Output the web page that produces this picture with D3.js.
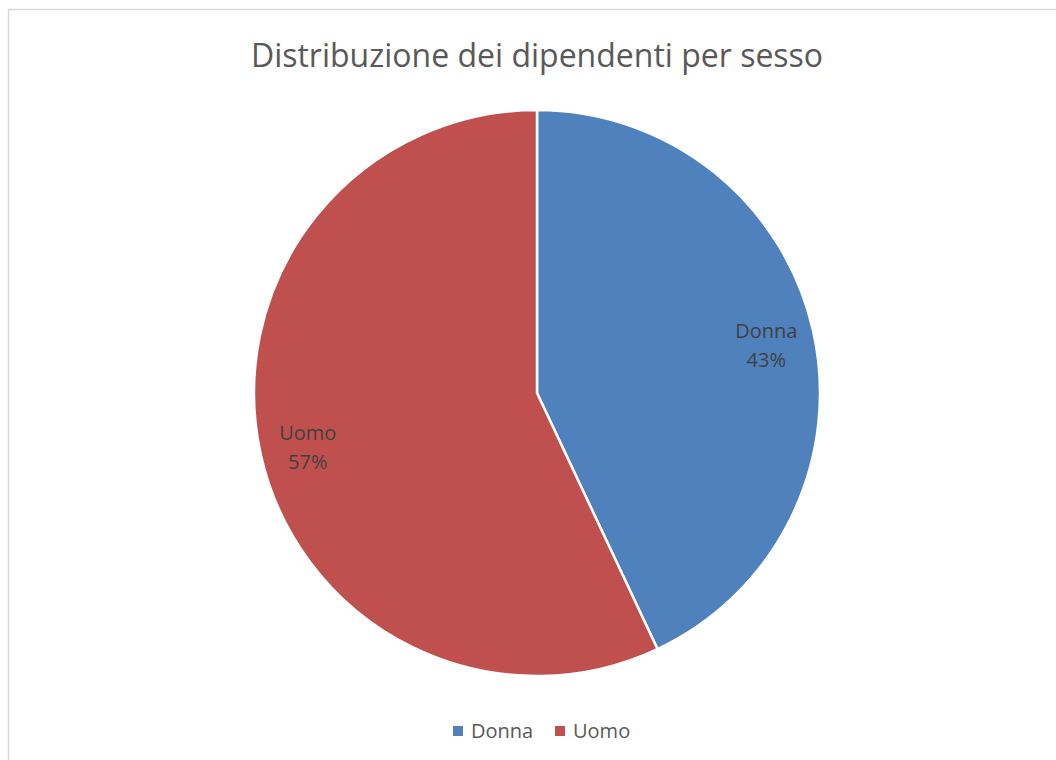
<!DOCTYPE html>
<html>
<head>
<meta charset="utf-8">
<script src="https://cdn.jsdelivr.net/npm/d3@7"></script>
<style>
  body { margin: 0; background: #fff; }
  text { font-family: "Open Sans", "Noto Sans", sans-serif; }
</style>
</head>
<body>
<script>
// chart data
const categories = ["Donna", "Uomo"];
const values = [43, 57];
const colors = ["#4F81BD", "#C0504D"];

const width = 1056, height = 760;

const svg = d3.select("body").append("svg")
    .attr("width", width)
    .attr("height", height);

// chart frame
svg.append("rect")
    .attr("x", 8.5)
    .attr("y", 9.5)
    .attr("width", width)
    .attr("height", height)
    .attr("fill", "#fff")
    .attr("stroke", "#d9d9d9")
    .attr("stroke-width", 1.5);

// title
svg.append("text")
    .attr("x", 537)
    .attr("y", 67)
    .attr("text-anchor", "middle")
    .attr("font-size", 32)
    .attr("fill", "#595959")
    .text("Distribuzione dei dipendenti per sesso");

const cx = 537, cy = 393, r = 283;
const data = categories.map((c, i) => ({ name: c, value: values[i], color: colors[i] }));

const pie = d3.pie().value(d => d.value).sort(null);
const arc = d3.arc().innerRadius(0).outerRadius(r);
const total = d3.sum(values);

const g = svg.append("g").attr("transform", `translate(${cx},${cy})`);

g.selectAll(".slice")
    .data(pie(data))
    .join("path")
    .attr("class", "slice")
    .attr("d", arc)
    .attr("fill", d => d.data.color)
    .attr("stroke", "#fff")
    .attr("stroke-width", 2.5);

// labels placed inside, toward the outer edge
const labelArc = d3.arc().innerRadius(r * 0.83).outerRadius(r * 0.83);
const labels = g.selectAll(".lbl")
    .data(pie(data))
    .join("text")
    .attr("class", "lbl")
    .attr("text-anchor", "middle")
    .attr("font-size", 20)
    .attr("fill", "#404040")
    .attr("transform", d => `translate(${labelArc.centroid(d)})`);

labels.append("tspan").attr("x", 0).attr("y", -4).text(d => d.data.name);
labels.append("tspan").attr("x", 0).attr("y", 25)
    .text(d => Math.round(d.data.value / total * 100) + "%");

// legend
const legend = svg.append("g").attr("transform", "translate(453,726)");
const legendX = [0, 102];
const items = legend.selectAll(".leg")
    .data(data)
    .join("g")
    .attr("class", "leg")
    .attr("transform", (d, i) => `translate(${legendX[i]},0)`);

items.append("rect")
    .attr("width", 10)
    .attr("height", 10)
    .attr("fill", d => d.color);

items.append("text")
    .attr("x", 18)
    .attr("y", 12)
    .attr("font-size", 20)
    .attr("fill", "#595959")
    .text(d => d.name);
</script>
</body>
</html>
